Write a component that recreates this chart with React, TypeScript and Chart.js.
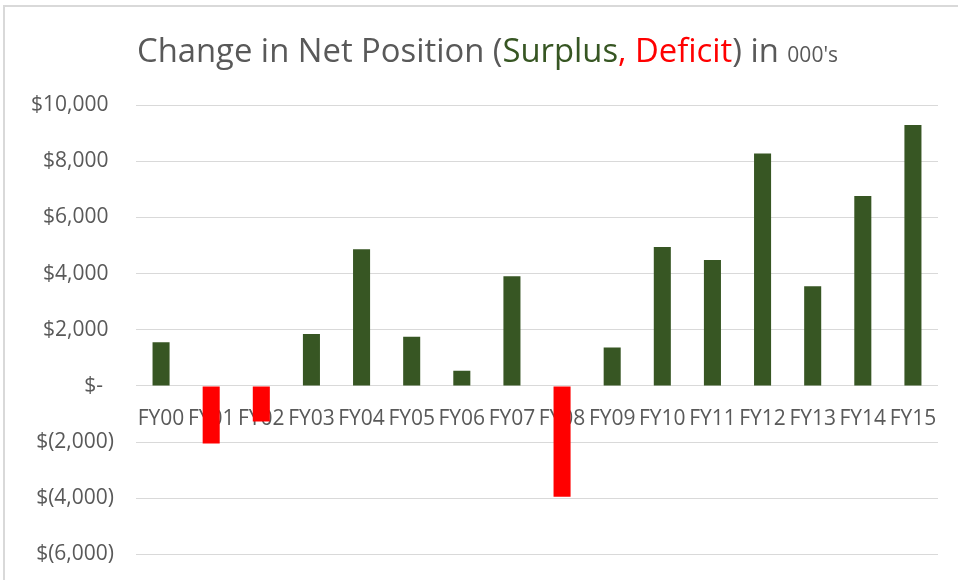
import React, { useEffect, useRef } from "react";
import { Chart, registerables } from "chart.js";

Chart.register(...registerables);

const categories = ["FY00", "FY01", "FY02", "FY03", "FY04", "FY05", "FY06", "FY07", "FY08", "FY09", "FY10", "FY11", "FY12", "FY13", "FY14", "FY15"];
const netChange = [1550, -2050, -1270, 1850, 4860, 1750, 540, 3900, -3950, 1370, 4940, 4480, 8270, 3550, 6760, 9290];
const yTickValues = [-6000, -4000, -2000, 0, 2000, 4000, 6000, 8000, 10000];

const titleParts = [
  { text: "Change in Net Position (", color: "#595959", small: false },
  { text: "Surplus", color: "#375623", small: false },
  { text: ", Deficit", color: "#FF0000", small: false },
  { text: ") in ", color: "#595959", small: false },
  { text: "000's", color: "#595959", small: true },
];

const GREEN = "#375623";
const RED = "#FF0000";
const TEXT = "#595959";
const FONT = "'Open Sans', 'Noto Sans', sans-serif";

function fmt(v: number): string {
  if (v === 0) return "$-  ";
  const s = Math.abs(v).toLocaleString("en-US");
  return v < 0 ? "$(" + s + ")" : "$" + s + " ";
}

const titlePlugin = {
  id: "mixedTitle",
  afterDraw(chart: any) {
    const ctx = chart.ctx;
    ctx.save();
    ctx.textBaseline = "alphabetic";
    ctx.textAlign = "left";
    let x = chart.chartArea.left + 1;
    const y = 62;
    for (const p of titleParts) {
      ctx.font = (p.small ? "21px " : "32.8px ") + FONT;
      ctx.fillStyle = p.color;
      ctx.fillText(p.text, x, y);
      x += ctx.measureText(p.text).width;
    }
    ctx.restore();
  },
};

export default function App() {
  const ref = useRef<HTMLCanvasElement | null>(null);
  useEffect(() => {
    if (!ref.current) return;
    const chart = new Chart(ref.current, {
      type: "bar",
      data: {
        labels: categories,
        datasets: [
          {
            data: netChange,
            backgroundColor: netChange.map((v) => (v >= 0 ? GREEN : RED)),
            borderWidth: 0,
            categoryPercentage: 0.34,
            barPercentage: 1,
          },
        ],
      },
      options: {
        animation: false,
        responsive: false,
        layout: { padding: { left: 0, right: 20, top: 105, bottom: 26 } },
        plugins: { legend: { display: false }, tooltip: { enabled: false }, title: { display: false } },
        scales: {
          x: {
            position: { y: 0 } as any,
            grid: { display: false, drawTicks: false },
            border: { display: false },
            ticks: { color: TEXT, font: { family: FONT, size: 21 }, padding: 21, maxRotation: 0, autoSkip: false },
          },
          y: {
            min: yTickValues[0],
            max: yTickValues[yTickValues.length - 1],
            afterBuildTicks: (scale: any) => {
              scale.ticks = yTickValues.map((v) => ({ value: v }));
            },
            afterFit: (scale: any) => {
              scale.width = 136;
            },
            grid: { color: "#d9d9d9", lineWidth: 1, drawTicks: false },
            border: { display: false },
            ticks: { color: TEXT, font: { family: FONT, size: 21 }, padding: 22, callback: (v: any) => fmt(Number(v)) },
          },
        },
      },
      plugins: [titlePlugin],
    });
    return () => chart.destroy();
  }, []);
  return (
    <div style={{ position: "fixed", left: 0, top: 0, width: 958, height: 580, background: "#fff", overflow: "hidden" }}>
      <canvas ref={ref} width={958} height={589} style={{ position: "absolute", left: 0, top: 0 }} />
      <div style={{ position: "absolute", left: 3, top: 5, right: 0, bottom: 0, borderLeft: "2px solid #d9d9d9", borderTop: "2px solid #d9d9d9", pointerEvents: "none" }} />
    </div>
  );
}
